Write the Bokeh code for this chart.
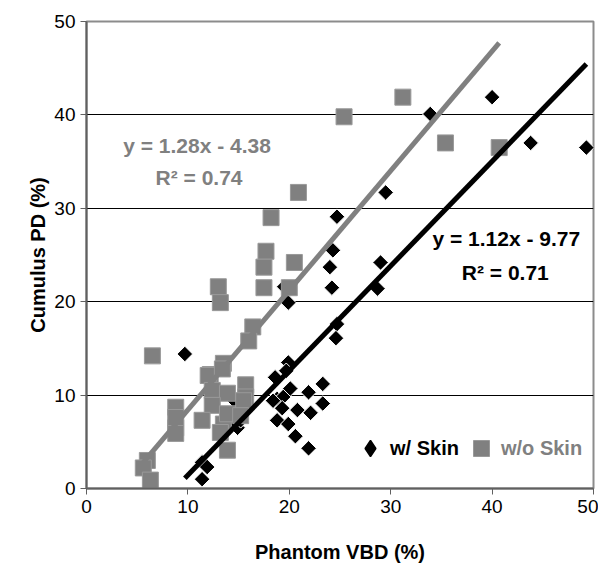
import math
from bokeh.plotting import figure
from bokeh.models import Range1d, Label, Legend, LegendItem, FixedTicker
from bokeh.embed import file_html
from bokeh.resources import INLINE

# w/ Skin (black diamonds)
skin_x = [9.7, 40.0, 33.9, 43.8, 49.3, 29.5, 24.7, 24.3, 24.0, 24.2, 29.0, 28.7,
          19.5, 19.9, 24.7, 24.6, 19.9, 19.7, 18.6, 20.1, 21.9, 23.3, 18.8, 19.4,
          18.4, 19.3, 20.8, 22.1, 23.3, 18.8, 19.9, 20.6, 21.9, 14.9, 15.2, 11.4,
          11.9, 11.4, 14.5, 14.6]
skin_y = [14.4, 41.9, 40.1, 37.0, 36.5, 31.7, 29.1, 25.5, 23.7, 21.5, 24.2, 21.4,
          21.6, 19.9, 17.6, 16.1, 13.5, 12.6, 11.9, 10.7, 10.3, 11.2, 9.6, 9.8,
          9.4, 8.6, 8.4, 8.1, 9.1, 7.3, 6.9, 5.6, 4.3, 6.5, 7.3, 2.8,
          2.3, 1.0, 9.5, 7.2]

# w/o Skin (gray squares)
noskin_x = [6.5, 31.2, 25.4, 35.4, 40.7, 20.9, 18.2, 17.7, 17.5, 17.5, 20.5, 20.0,
            13.0, 13.2, 16.4, 16.0, 13.5, 12.2, 15.7, 15.7, 12.0, 13.4, 12.4, 13.9,
            15.5, 12.4, 11.4, 13.5, 13.9, 15.2, 13.9, 8.8, 8.8, 6.0, 5.6, 6.3,
            8.8, 8.8, 13.2]
noskin_y = [14.2, 41.9, 39.8, 37.0, 36.5, 31.7, 29.0, 25.4, 23.7, 21.5, 24.2, 21.5,
            21.6, 19.9, 17.3, 15.8, 13.4, 12.2, 11.1, 9.8, 12.1, 12.8, 10.5, 10.2,
            9.4, 8.9, 7.3, 6.9, 8.0, 7.8, 4.1, 8.7, 6.5, 3.0, 2.2, 0.9,
            5.9, 7.6, 6.0]

# trendline coefficients
skin_fit = (1.12, -9.77)
noskin_fit = (1.28, -4.38)

x_ticks = [0, 10, 20, 30, 40, 50]
y_ticks = [0, 10, 20, 30, 40, 50]

FONT = "Liberation Sans"
GRAY = "#808080"

p = figure(frame_width=507, frame_height=467, output_backend="svg",
           toolbar_location=None,
           x_range=Range1d(0, 50), y_range=Range1d(0, 50),
           min_border_left=86, min_border_right=5, min_border_top=21,
           min_border_bottom=60)
p.background_fill_color = "white"
p.border_fill_color = "white"
p.outline_line_color = "#8c8c8c"
p.outline_line_width = 2

p.xgrid.visible = False
p.ygrid.ticker = FixedTicker(ticks=[10, 20, 30, 40])
p.ygrid.grid_line_color = "black"
p.ygrid.grid_line_width = 1

for ax, ticks in ((p.xaxis, x_ticks), (p.yaxis, y_ticks)):
    ax.ticker = FixedTicker(ticks=ticks)
    ax.axis_line_color = "#606060"
    ax.axis_line_width = 2
    ax.major_tick_line_color = "#606060"
    ax.major_tick_out = 6
    ax.major_tick_in = 0
    ax.minor_tick_line_color = None
    ax.major_label_text_font = FONT
    ax.major_label_text_font_size = "19px"
    ax.major_label_text_color = "black"
    ax.axis_label_text_font = FONT
    ax.axis_label_text_font_size = "20px"
    ax.axis_label_text_font_style = "bold"
    ax.axis_label_text_color = "black"

p.xaxis.axis_label = "Phantom VBD (%)"
p.yaxis.axis_label = "Cumulus PD (%)"
p.xaxis.axis_label_standoff = 25
p.yaxis.axis_label_standoff = 2
p.xaxis.major_label_standoff = 5
p.yaxis.major_label_standoff = 5

r_skin = p.scatter(skin_x, skin_y, marker="square", size=11, angle=math.pi / 4,
                   fill_color="black", line_color="white", line_width=1)
r_noskin = p.scatter(noskin_x, noskin_y, marker="square", size=16,
                     fill_color=GRAY, line_color="#999999", line_width=1)

# legend proxy (diamond shape, not shown in the plot area)
nan = float("nan")
r_skin_key = p.scatter([nan], [nan], marker="diamond", size=16,
                       fill_color="black", line_color="black", line_width=1.5)

gx0, gx1 = min(noskin_x), max(noskin_x)
p.line([gx0, gx1], [noskin_fit[0] * gx0 + noskin_fit[1], noskin_fit[0] * gx1 + noskin_fit[1]],
       line_color=GRAY, line_width=5)
bx0, bx1 = min(skin_x), max(skin_x)
p.line([bx0, bx1], [skin_fit[0] * bx0 + skin_fit[1], skin_fit[0] * bx1 + skin_fit[1]],
       line_color="black", line_width=5)

def eq_label(x, y, text, color):
    p.add_layout(Label(x=x, y=y, text=text, text_font=FONT, text_font_size="21px",
                       text_font_style="bold", text_color=color,
                       text_align="center", text_baseline="middle"))

eq_label(41.4, 26.8, "y = 1.12x - 9.77", "black")
eq_label(41.3, 23.1, "R\u00b2 = 0.71", "black")
eq_label(10.9, 36.7, "y = 1.28x - 4.38", GRAY)
eq_label(11.1, 33.3, "R\u00b2 = 0.74", GRAY)

def make_legend(renderer, label, color, loc, glyph, standoff):
    lg = Legend(items=[LegendItem(label=label, renderers=[renderer])],
                location=loc, orientation="horizontal",
                padding=0, margin=0, spacing=0, border_line_color=None,
                background_fill_alpha=0, glyph_width=glyph, glyph_height=glyph,
                label_standoff=standoff, label_text_font=FONT,
                label_text_font_size="20px", label_text_font_style="bold",
                label_text_color=color, label_height=20)
    p.add_layout(lg, "center")

make_legend(r_skin_key, "w/ Skin", "black", (264, 20), 40, -10)
make_legend(r_noskin, "w/o Skin", GRAY, (375, 20), 40, -8)

open("out.html", "w").write(file_html(p, INLINE))
